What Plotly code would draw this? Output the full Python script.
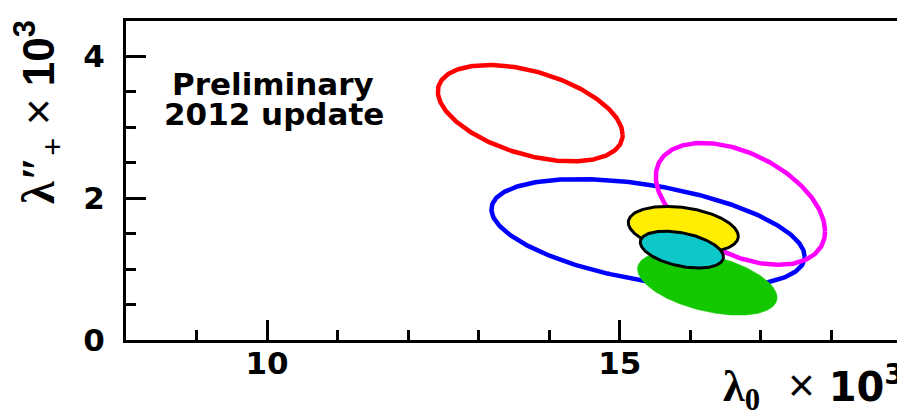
import numpy as np
import plotly.graph_objects as go

# Ellipse parameters (lambda0 x1e3, lambda''+ x1e3)
names = ["red", "blue", "magenta", "green", "yellow", "cyan"]
cx = [13.73, 15.40, 16.71, 16.24, 15.90, 15.88]
cy = [3.20, 1.51, 1.92, 0.80, 1.56, 1.275]
sx = [1.31, 2.22, 1.20, 0.99, 0.78, 0.59]
sy = [0.68, 0.76, 0.86, 0.45, 0.325, 0.26]
rho = [-0.45, -0.44, -0.45, -0.45, -0.30, -0.40]

line_colors = ["#FF0000", "#0000FF", "#FF00FF", "#14C800", "black", "black"]
fill_colors = [None, None, None, "#14C800", "#FFEE00", "#0CC8C8"]
line_widths = [4.5, 4.5, 4.5, 0, 3, 3]

x_range = [8, 19]
y_range = [0, 4.5]
x_major = [10, 15]
x_minor = [9, 11, 12, 13, 14, 16, 17, 18]
y_major = [0, 2, 4]
y_minor = [0.5, 1, 1.5, 2.5, 3, 3.5]

t = np.linspace(0, 2 * np.pi, 361)

fig = go.Figure()
for i, n in enumerate(names):
    xs = cx[i] + sx[i] * np.cos(t)
    ys = cy[i] + sy[i] * (rho[i] * np.cos(t) + np.sqrt(1 - rho[i] ** 2) * np.sin(t))
    kw = dict(x=xs, y=ys, mode="lines", name=n, showlegend=False, hoverinfo="skip")
    if fill_colors[i] is None:
        kw["line"] = dict(color=line_colors[i], width=line_widths[i])
    else:
        kw["fill"] = "toself"
        kw["fillcolor"] = fill_colors[i]
        if line_widths[i] > 0:
            kw["line"] = dict(color=line_colors[i], width=line_widths[i])
        else:
            kw["line"] = dict(color=fill_colors[i], width=0.5)
    fig.add_trace(go.Scatter(**kw))

SANS = "DejaVu Sans"
tickfont = dict(family=SANS, size=31, color="black", weight="bold")

fig.update_xaxes(
    range=x_range, showgrid=False, zeroline=False,
    showline=True, linecolor="black", linewidth=3, mirror=True,
    ticks="inside", ticklen=20, tickwidth=3, tickcolor="black",
    tickvals=x_major, ticktext=[str(v) for v in x_major], tickfont=tickfont,
    ticklabelstandoff=-6,
    minor=dict(tickvals=x_minor, ticks="inside", ticklen=10, tickwidth=3, tickcolor="black"),
)
fig.update_yaxes(
    range=y_range, showgrid=False, zeroline=False,
    showline=True, linecolor="black", linewidth=3, mirror=True,
    ticks="inside", ticklen=20, tickwidth=3, tickcolor="black",
    tickvals=y_major, ticktext=[str(v) for v in y_major], tickfont=tickfont,
    ticklabelstandoff=12,
    minor=dict(tickvals=y_minor, ticks="inside", ticklen=10, tickwidth=3, tickcolor="black"),
)

lam = "font-family:Liberation Serif;font-weight:bold"
times = "<span style='font-family:Liberation Sans;font-weight:normal;font-size:46px'>×</span>"
fig.add_annotation(
    text="<span style='%s'>λ<sub>0</sub></span>&#160;&#160;%s&#160;10<sup>3</sup>" % (lam + ";font-size:44px", times),
    xref="paper", yref="paper", x=1.005, y=-0.15, xanchor="right", yanchor="middle",
    showarrow=False, font=dict(family=SANS, size=40, color="black", weight="bold"),
)
fig.add_annotation(
    text="<span style='%s'>λ″<sub>+</sub></span>&#160;%s&#160;10<sup>3</sup>" % (lam + ";font-size:46px", times),
    xref="paper", yref="paper", x=-0.112, y=1.01, xanchor="center", yanchor="top", textangle=-90,
    showarrow=False, font=dict(family="Liberation Sans", size=44, color="black", weight="bold"),
)
fig.add_annotation(
    text="Preliminary", xref="x", yref="y", x=10.09, y=3.61, xanchor="center", yanchor="middle",
    showarrow=False, font=dict(family=SANS, size=31, color="black", weight="bold"),
)
fig.add_annotation(
    text="2012 update", xref="x", yref="y", x=10.1, y=3.19, xanchor="center", yanchor="middle",
    showarrow=False, font=dict(family=SANS, size=31, color="black", weight="bold"),
)

fig.update_layout(
    width=905, height=419, autosize=False,
    margin=dict(l=118, r=8, t=13, b=87),
    paper_bgcolor="white", plot_bgcolor="white",
)
fig.write_html("out.html")
